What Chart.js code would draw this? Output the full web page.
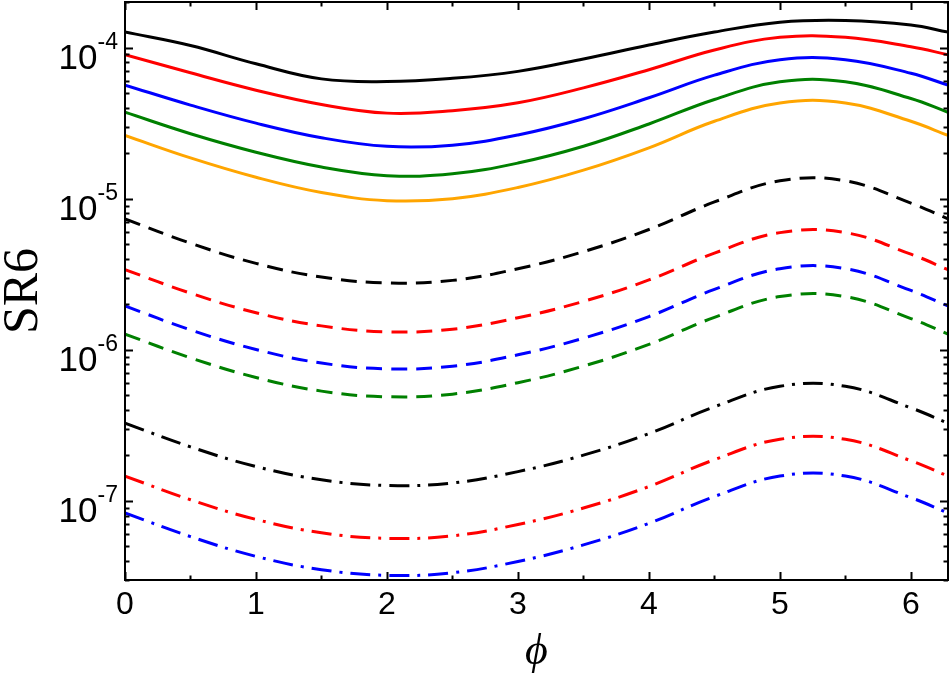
<!DOCTYPE html>
<html>
<head>
<meta charset="utf-8">
<script src="https://cdn.jsdelivr.net/npm/chart.js@4/dist/chart.umd.min.js"></script>
<style>
    html, body { margin: 0; padding: 0; background: #fff; }
</style>
</head>
<body>
<canvas id="srChart" width="952" height="683"></canvas>
<script>
const phi = [0, 0.5, 1, 1.5, 2, 2.5, 3, 3.5, 4, 4.5, 5, 5.5, 6, 6.283];

const blackSolid  = [1.265e-4, 1.03e-4, 7.8e-5, 6.2e-5, 5.95e-5, 6.25e-5, 6.95e-5, 8.4e-5, 1.04e-4, 1.265e-4, 1.47e-4, 1.51e-4, 1.41e-4, 1.265e-4];
const redSolid    = [8.96e-5, 6.80e-5, 5.22e-5, 4.20e-5, 3.68e-5, 3.82e-5, 4.31e-5, 5.41e-5, 7.13e-5, 9.63e-5, 1.168e-4, 1.168e-4, 1.011e-4, 8.96e-5];
const blueSolid   = [5.64e-5, 4.16e-5, 3.16e-5, 2.53e-5, 2.22e-5, 2.26e-5, 2.64e-5, 3.38e-5, 4.65e-5, 6.56e-5, 8.30e-5, 8.30e-5, 6.75e-5, 5.64e-5];
const greenSolid  = [3.73e-5, 2.69e-5, 2.03e-5, 1.62e-5, 1.42e-5, 1.46e-5, 1.72e-5, 2.22e-5, 3.12e-5, 4.53e-5, 5.93e-5, 5.93e-5, 4.60e-5, 3.73e-5];
const orangeSolid = [2.62e-5, 1.86e-5, 1.385e-5, 1.098e-5, 9.70e-6, 1.00e-5, 1.186e-5, 1.544e-5, 2.17e-5, 3.25e-5, 4.29e-5, 4.29e-5, 3.25e-5, 2.62e-5];

const blackDashed = [7.35e-6, 5.07e-6, 3.73e-6, 3.03e-6, 2.77e-6, 2.88e-6, 3.44e-6, 4.46e-6, 6.25e-6, 9.51e-6, 1.312e-5, 1.312e-5, 9.35e-6, 7.35e-6];
const redDashed   = [3.39e-6, 2.37e-6, 1.76e-6, 1.44e-6, 1.316e-6, 1.369e-6, 1.63e-6, 2.09e-6, 2.90e-6, 4.36e-6, 5.96e-6, 5.96e-6, 4.29e-6, 3.39e-6];
const blueDashed  = [1.95e-6, 1.355e-6, 1.005e-6, 8.17e-7, 7.49e-7, 7.79e-7, 9.27e-7, 1.194e-6, 1.66e-6, 2.51e-6, 3.44e-6, 3.44e-6, 2.47e-6, 1.95e-6];
const greenDashed = [1.27e-6, 8.85e-7, 6.56e-7, 5.33e-7, 4.89e-7, 5.09e-7, 6.06e-7, 7.80e-7, 1.087e-6, 1.64e-6, 2.25e-6, 2.25e-6, 1.61e-6, 1.27e-6];

const blackDashDot = [3.27e-7, 2.28e-7, 1.69e-7, 1.38e-7, 1.266e-7, 1.316e-7, 1.564e-7, 2.01e-7, 2.79e-7, 4.20e-7, 5.74e-7, 5.74e-7, 4.13e-7, 3.27e-7];
const redDashDot   = [1.461e-7, 1.018e-7, 7.55e-8, 6.16e-8, 5.66e-8, 5.88e-8, 6.99e-8, 8.98e-8, 1.246e-7, 1.876e-7, 2.56e-7, 2.56e-7, 1.845e-7, 1.461e-7];
const blueDashDot  = [8.33e-8, 5.81e-8, 4.30e-8, 3.51e-8, 3.22e-8, 3.35e-8, 3.98e-8, 5.12e-8, 7.11e-8, 1.070e-7, 1.462e-7, 1.462e-7, 1.052e-7, 8.33e-8];

const xTickLabels = [0, 1, 2, 3, 4, 5, 6];
const xMinorTicks = [0.5, 1.5, 2.5, 3.5, 4.5, 5.5];
const yTickExponents = [-7, -6, -5, -4];

const X_MIN = 0, X_MAX = 6.2832;
const Y_MIN = 3e-8, Y_MAX = 2e-4;

const SOLID = [];
const DASHED = [16, 9];
const DASHDOT = [20, 8, 3, 8];

function series(values, color, dash) {
    return {
        data: phi.map((p, i) => ({ x: p, y: values[i] })),
        borderColor: color,
        borderWidth: 3,
        borderDash: dash,
        pointRadius: 0,
        tension: 0.4,
        fill: false,
    };
}

// minor ticks of the log axis: 2..9 x 10^e inside the range
function yMinorTicks() {
    const out = [];
    for (let e = -8; e <= -4; e++) {
        for (let m = 2; m <= 9; m++) {
            const v = m * Math.pow(10, e);
            if (v >= Y_MIN && v <= Y_MAX) out.push(v);
        }
    }
    return out;
}

const axesPlugin = {
    id: "axesPlugin",
    afterDatasetsDraw(chart) {
        const { ctx, chartArea: a, scales } = chart;
        const x = scales.x, y = scales.y;
        ctx.save();
        ctx.strokeStyle = "#000";
        ctx.lineWidth = 2;

        // inward ticks on all four sides
        ctx.beginPath();
        xTickLabels.forEach((v) => {
            const px = Math.round(x.getPixelForValue(v)) + 0.5;
            ctx.moveTo(px, a.bottom); ctx.lineTo(px, a.bottom - 8);
            ctx.moveTo(px, a.top); ctx.lineTo(px, a.top + 8);
        });
        xMinorTicks.forEach((v) => {
            const px = Math.round(x.getPixelForValue(v)) + 0.5;
            ctx.moveTo(px, a.bottom); ctx.lineTo(px, a.bottom - 4.5);
            ctx.moveTo(px, a.top); ctx.lineTo(px, a.top + 4.5);
        });
        yTickExponents.forEach((e) => {
            const py = Math.round(y.getPixelForValue(Math.pow(10, e))) + 0.5;
            ctx.moveTo(a.left, py); ctx.lineTo(a.left + 8, py);
            ctx.moveTo(a.right, py); ctx.lineTo(a.right - 8, py);
        });
        yMinorTicks().forEach((v) => {
            const py = Math.round(y.getPixelForValue(v)) + 0.5;
            ctx.moveTo(a.left, py); ctx.lineTo(a.left + 4.5, py);
            ctx.moveTo(a.right, py); ctx.lineTo(a.right - 4.5, py);
        });
        ctx.stroke();

        ctx.strokeRect(a.left, a.top, a.width, a.height);

        // x tick labels
        ctx.fillStyle = "#000";
        ctx.font = "32px 'Liberation Sans', Arial, sans-serif";
        ctx.textAlign = "center";
        ctx.textBaseline = "alphabetic";
        xTickLabels.forEach((v) => {
            ctx.fillText(String(v), x.getPixelForValue(v), a.bottom + 34);
        });

        // y tick labels as 10 with superscript exponent
        yTickExponents.forEach((e) => {
            const py = y.getPixelForValue(Math.pow(10, e));
            const sup = String(e);
            ctx.textAlign = "right";
            ctx.font = "23px 'Liberation Sans', Arial, sans-serif";
            const supRight = a.left - 7;
            const supW = ctx.measureText(sup).width;
            ctx.fillText(sup, supRight, py + 1);
            ctx.font = "35px 'Liberation Sans', Arial, sans-serif";
            ctx.fillText("10", supRight - supW, py + 21);
        });

        // axis titles
        ctx.textAlign = "center";
        ctx.font = "italic 44px 'Liberation Serif', 'DejaVu Serif', serif";
        ctx.fillText("\u03D5", (a.left + a.right) / 2, a.bottom + 84);

        ctx.save();
        ctx.translate(24, (a.top + a.bottom) / 2);
        ctx.rotate(-Math.PI / 2);
        ctx.textBaseline = "middle";
        ctx.font = "50px 'Liberation Serif', 'DejaVu Serif', serif";
        ctx.fillText("SR6", 0, 0);
        ctx.restore();

        ctx.restore();
    },
};

new Chart(document.getElementById("srChart"), {
    type: "line",
    data: {
        datasets: [
            series(blackSolid, "#000000", SOLID),
            series(redSolid, "#ff0000", SOLID),
            series(blueSolid, "#0000ff", SOLID),
            series(greenSolid, "#008000", SOLID),
            series(orangeSolid, "#ffa500", SOLID),
            series(blackDashed, "#000000", DASHED),
            series(redDashed, "#ff0000", DASHED),
            series(blueDashed, "#0000ff", DASHED),
            series(greenDashed, "#008000", DASHED),
            series(blackDashDot, "#000000", DASHDOT),
            series(redDashDot, "#ff0000", DASHDOT),
            series(blueDashDot, "#0000ff", DASHDOT),
        ],
    },
    options: {
        responsive: false,
        animation: false,
        layout: { padding: { left: 125, right: 4, top: 2, bottom: 103 } },
        scales: {
            x: { type: "linear", min: X_MIN, max: X_MAX, display: false },
            y: { type: "logarithmic", min: Y_MIN, max: Y_MAX, display: false },
        },
        plugins: {
            legend: { display: false },
            tooltip: { enabled: false },
        },
    },
    plugins: [axesPlugin],
});
</script>
</body>
</html>
